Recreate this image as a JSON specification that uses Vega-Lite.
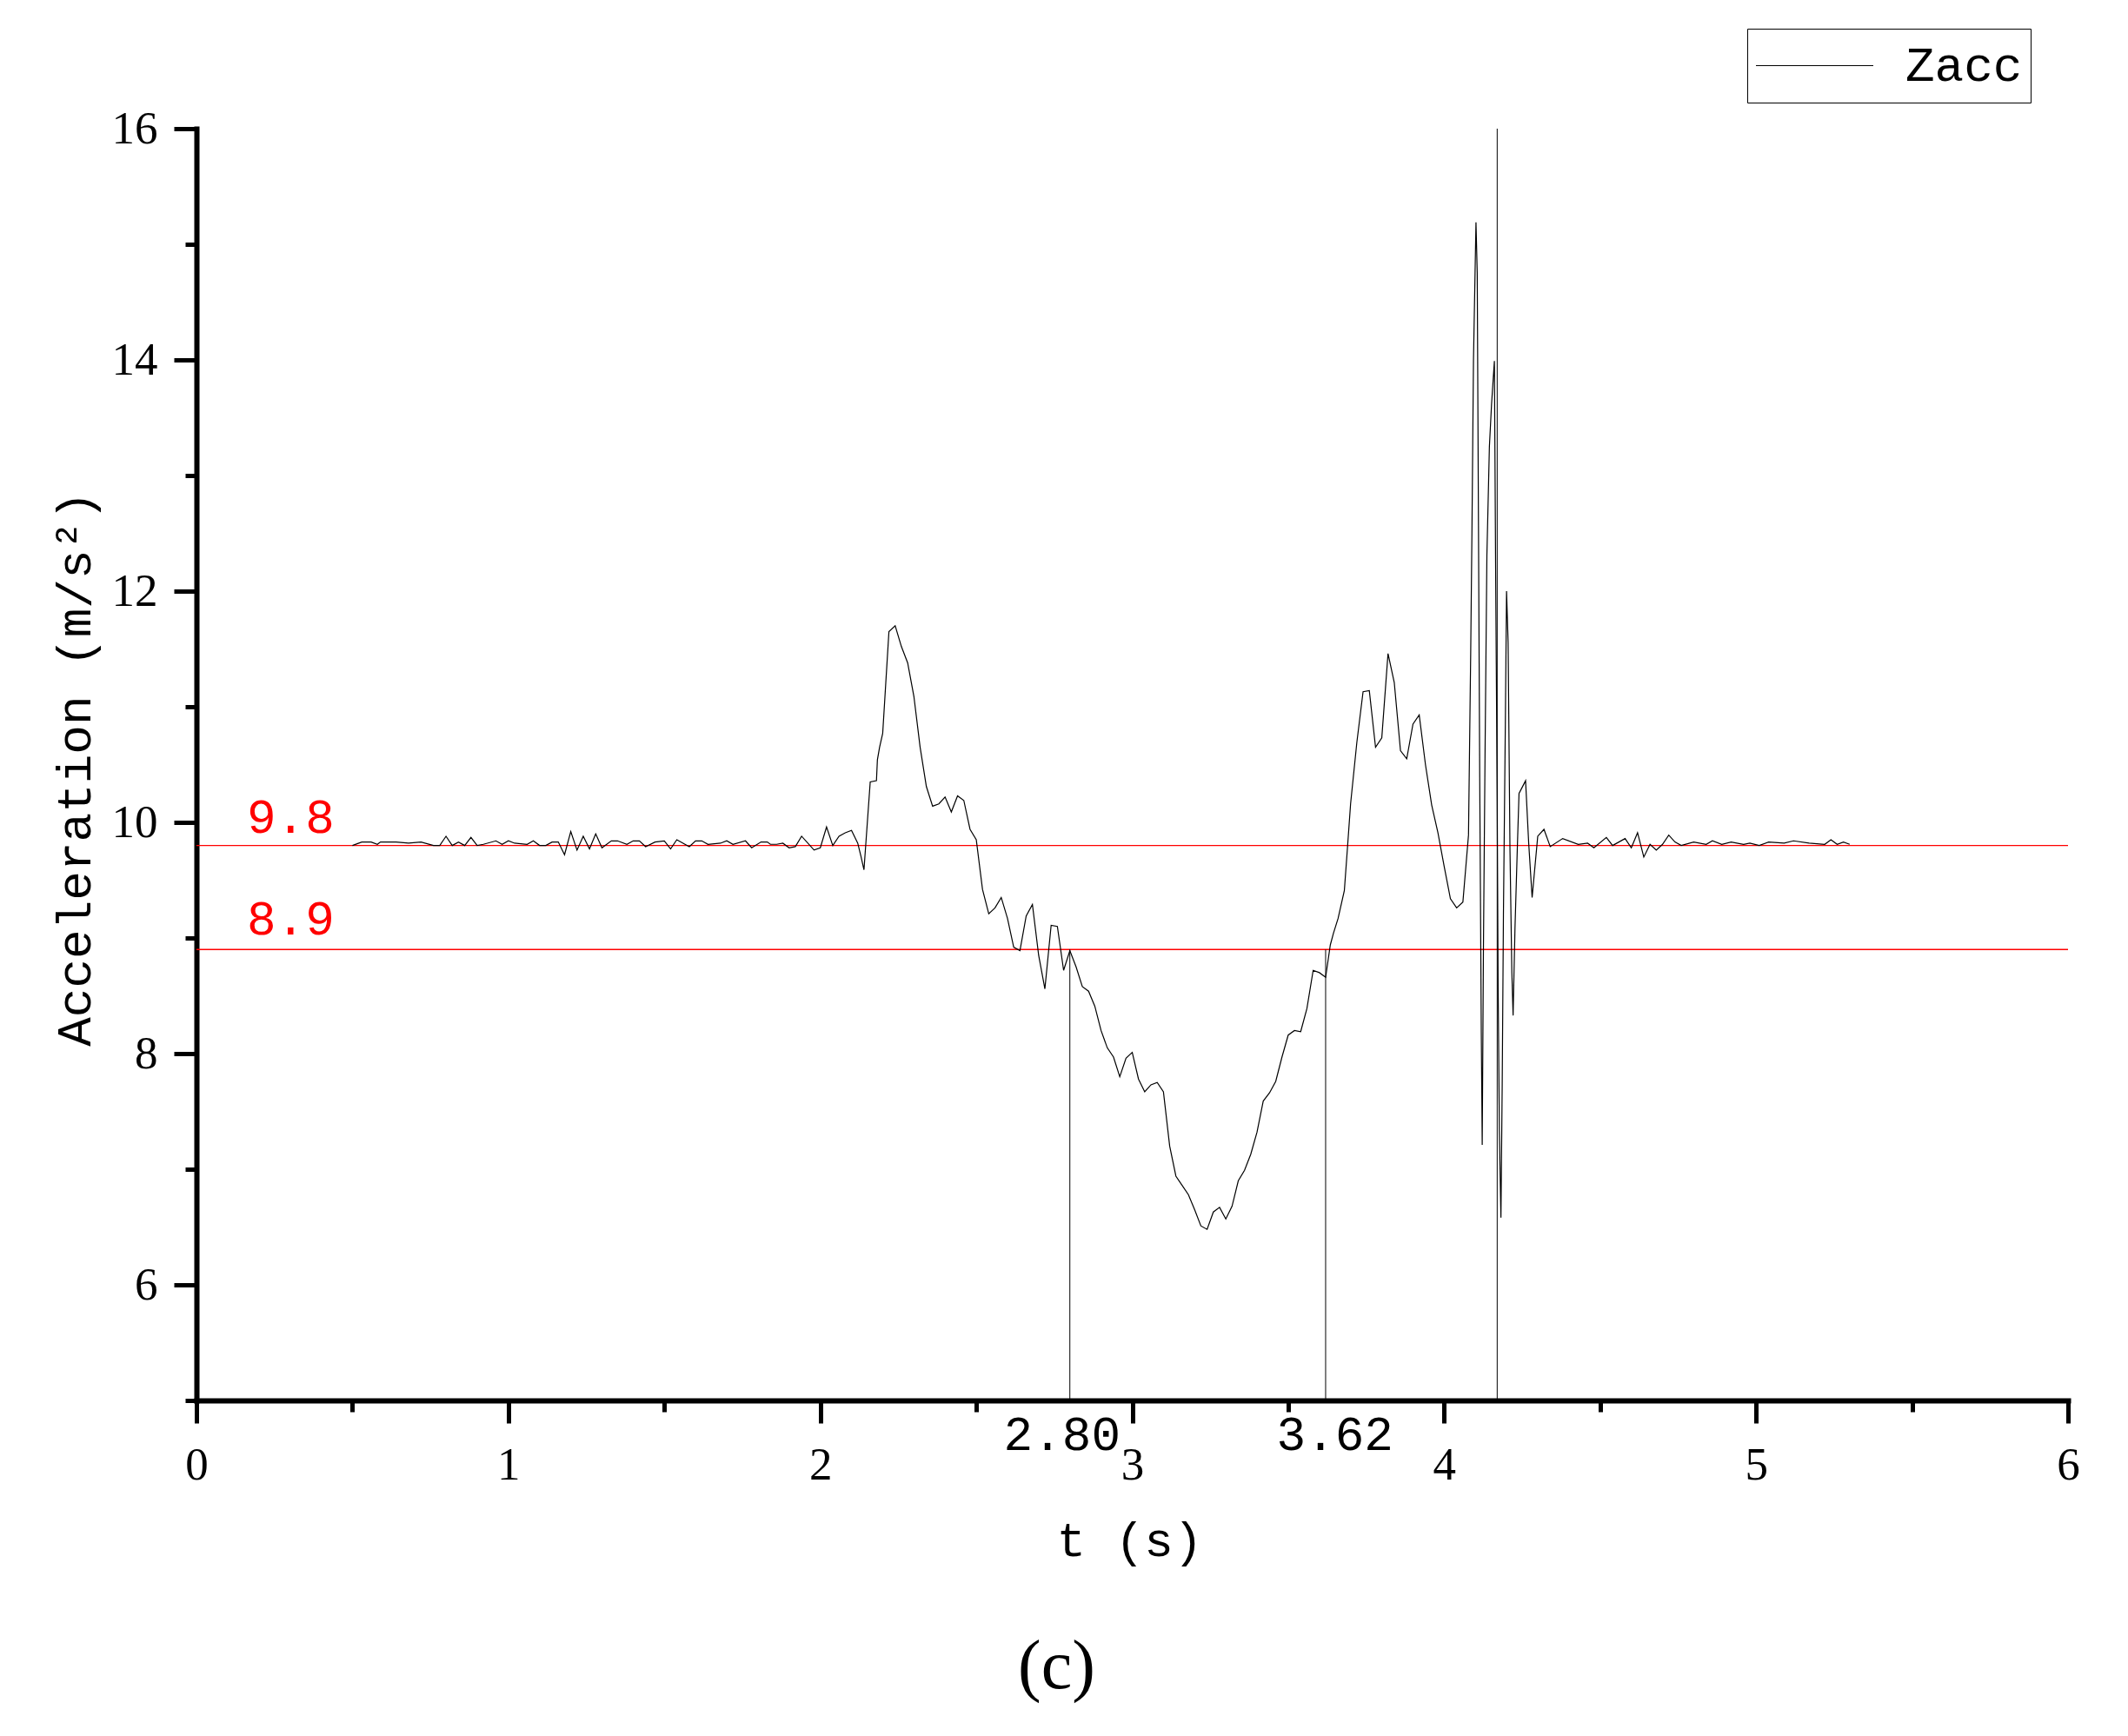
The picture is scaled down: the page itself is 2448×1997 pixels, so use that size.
{
  "$schema": "https://vega.github.io/schema/vega-lite/v6.json",
  "width": 2153,
  "height": 1463,
  "autosize": {"type": "none"},
  "padding": {"left": 226, "top": 148, "right": 69, "bottom": 386},
  "background": "white",
  "config": {"view": {"stroke": null}},
  "title": {"text": "(c)", "orient": "bottom", "anchor": "middle", "font": "Liberation Serif", "fontSize": 80, "fontWeight": "normal", "color": "black", "baseline": "alphabetic", "offset": 142, "dx": -87},
  "datasets": {
    "zacc": [
      {"t":0.50,"a":9.80},{"t":0.53,"a":9.83},{"t":0.56,"a":9.83},{"t":0.58,"a":9.81},{"t":0.59,"a":9.83},{"t":0.64,"a":9.83},{"t":0.68,"a":9.82},{"t":0.72,"a":9.83},{"t":0.76,"a":9.80},{"t":0.78,"a":9.80},
      {"t":0.80,"a":9.88},{"t":0.82,"a":9.80},{"t":0.84,"a":9.83},{"t":0.86,"a":9.80},{"t":0.88,"a":9.87},{"t":0.90,"a":9.80},{"t":0.92,"a":9.81},{"t":0.96,"a":9.84},{"t":0.98,"a":9.81},{"t":1.00,"a":9.84},
      {"t":1.02,"a":9.82},{"t":1.06,"a":9.81},{"t":1.08,"a":9.84},{"t":1.10,"a":9.80},{"t":1.12,"a":9.80},{"t":1.14,"a":9.83},{"t":1.16,"a":9.83},{"t":1.18,"a":9.72},{"t":1.20,"a":9.92},{"t":1.22,"a":9.76},
      {"t":1.24,"a":9.88},{"t":1.26,"a":9.77},{"t":1.28,"a":9.90},{"t":1.30,"a":9.78},{"t":1.33,"a":9.84},{"t":1.35,"a":9.84},{"t":1.38,"a":9.81},{"t":1.40,"a":9.84},{"t":1.42,"a":9.84},{"t":1.44,"a":9.79},
      {"t":1.47,"a":9.83},{"t":1.50,"a":9.84},{"t":1.52,"a":9.77},{"t":1.54,"a":9.85},{"t":1.58,"a":9.79},{"t":1.60,"a":9.84},{"t":1.62,"a":9.84},{"t":1.64,"a":9.81},{"t":1.68,"a":9.82},{"t":1.70,"a":9.84},
      {"t":1.72,"a":9.81},{"t":1.76,"a":9.84},{"t":1.78,"a":9.78},{"t":1.81,"a":9.83},{"t":1.83,"a":9.83},{"t":1.84,"a":9.81},{"t":1.86,"a":9.81},{"t":1.88,"a":9.82},{"t":1.90,"a":9.78},{"t":1.92,"a":9.79},
      {"t":1.94,"a":9.88},{"t":1.98,"a":9.76},{"t":2.00,"a":9.78},{"t":2.02,"a":9.96},{"t":2.04,"a":9.80},{"t":2.06,"a":9.88},{"t":2.08,"a":9.91},{"t":2.10,"a":9.93},{"t":2.12,"a":9.82},{"t":2.13,"a":9.71},
      {"t":2.14,"a":9.59},{"t":2.16,"a":10.35},{"t":2.18,"a":10.36},{"t":2.183,"a":10.54},{"t":2.19,"a":10.65},{"t":2.20,"a":10.77},{"t":2.21,"a":11.21},{"t":2.22,"a":11.65},{"t":2.24,"a":11.70},{"t":2.26,"a":11.52},
      {"t":2.28,"a":11.38},{"t":2.30,"a":11.09},{"t":2.32,"a":10.65},{"t":2.34,"a":10.31},{"t":2.36,"a":10.14},{"t":2.38,"a":10.16},{"t":2.40,"a":10.22},{"t":2.42,"a":10.09},{"t":2.44,"a":10.23},{"t":2.46,"a":10.19},
      {"t":2.48,"a":9.94},{"t":2.50,"a":9.85},{"t":2.52,"a":9.42},{"t":2.54,"a":9.21},{"t":2.56,"a":9.26},{"t":2.58,"a":9.35},{"t":2.60,"a":9.17},{"t":2.62,"a":8.92},{"t":2.64,"a":8.89},{"t":2.66,"a":9.19},
      {"t":2.68,"a":9.29},{"t":2.70,"a":8.85},{"t":2.72,"a":8.56},{"t":2.74,"a":9.11},{"t":2.76,"a":9.10},{"t":2.78,"a":8.72},{"t":2.80,"a":8.89},{"t":2.82,"a":8.75},{"t":2.84,"a":8.58},{"t":2.86,"a":8.54},
      {"t":2.88,"a":8.41},{"t":2.90,"a":8.20},{"t":2.92,"a":8.05},{"t":2.94,"a":7.97},{"t":2.96,"a":7.80},{"t":2.98,"a":7.96},{"t":3.00,"a":8.01},{"t":3.02,"a":7.78},{"t":3.04,"a":7.67},{"t":3.06,"a":7.73},
      {"t":3.08,"a":7.75},{"t":3.10,"a":7.67},{"t":3.12,"a":7.20},{"t":3.14,"a":6.94},{"t":3.16,"a":6.86},{"t":3.18,"a":6.78},{"t":3.20,"a":6.65},{"t":3.22,"a":6.51},{"t":3.24,"a":6.48},{"t":3.26,"a":6.63},
      {"t":3.28,"a":6.67},{"t":3.30,"a":6.57},{"t":3.32,"a":6.68},{"t":3.34,"a":6.90},{"t":3.36,"a":6.99},{"t":3.38,"a":7.13},{"t":3.40,"a":7.32},{"t":3.42,"a":7.59},{"t":3.44,"a":7.66},{"t":3.46,"a":7.76},
      {"t":3.48,"a":7.97},{"t":3.50,"a":8.16},{"t":3.52,"a":8.20},{"t":3.54,"a":8.19},{"t":3.56,"a":8.39},{"t":3.58,"a":8.72},{"t":3.60,"a":8.70},{"t":3.62,"a":8.66},{"t":3.635,"a":8.94},{"t":3.645,"a":9.04},
      {"t":3.66,"a":9.17},{"t":3.68,"a":9.41},{"t":3.69,"a":9.78},{"t":3.70,"a":10.16},{"t":3.72,"a":10.69},{"t":3.74,"a":11.13},{"t":3.76,"a":11.14},{"t":3.78,"a":10.65},{"t":3.80,"a":10.73},{"t":3.82,"a":11.46},
      {"t":3.84,"a":11.21},{"t":3.86,"a":10.62},{"t":3.88,"a":10.55},{"t":3.90,"a":10.85},{"t":3.92,"a":10.93},{"t":3.94,"a":10.50},{"t":3.96,"a":10.15},{"t":3.98,"a":9.91},{"t":4.00,"a":9.62},{"t":4.02,"a":9.34},
      {"t":4.04,"a":9.26},{"t":4.06,"a":9.31},{"t":4.078,"a":9.89},{"t":4.085,"a":11.45},{"t":4.089,"a":12.50},{"t":4.094,"a":14.00},{"t":4.099,"a":14.75},{"t":4.102,"a":15.19},{"t":4.106,"a":14.75},{"t":4.110,"a":12.57},
      {"t":4.114,"a":10.39},{"t":4.119,"a":8.19},{"t":4.122,"a":7.21},{"t":4.126,"a":8.95},{"t":4.131,"a":10.57},{"t":4.137,"a":12.31},{"t":4.145,"a":13.25},{"t":4.152,"a":13.62},{"t":4.161,"a":13.99},{"t":4.165,"a":12.19},
      {"t":4.170,"a":10.20},{"t":4.173,"a":8.58},{"t":4.177,"a":7.33},{"t":4.182,"a":6.58},{"t":4.186,"a":7.71},{"t":4.190,"a":9.20},{"t":4.196,"a":10.82},{"t":4.200,"a":12.00},{"t":4.205,"a":11.56},{"t":4.211,"a":9.76},
      {"t":4.217,"a":8.70},{"t":4.221,"a":8.33},{"t":4.227,"a":9.08},{"t":4.235,"a":9.82},{"t":4.240,"a":10.25},{"t":4.261,"a":10.36},{"t":4.271,"a":9.82},{"t":4.282,"a":9.35},{"t":4.30,"a":9.88},{"t":4.32,"a":9.94},
      {"t":4.34,"a":9.79},{"t":4.38,"a":9.86},{"t":4.43,"a":9.81},{"t":4.46,"a":9.82},{"t":4.48,"a":9.78},{"t":4.52,"a":9.87},{"t":4.54,"a":9.80},{"t":4.58,"a":9.86},{"t":4.60,"a":9.78},{"t":4.62,"a":9.91},
      {"t":4.64,"a":9.70},{"t":4.66,"a":9.81},{"t":4.68,"a":9.76},{"t":4.70,"a":9.81},{"t":4.72,"a":9.89},{"t":4.74,"a":9.83},{"t":4.76,"a":9.80},{"t":4.80,"a":9.83},{"t":4.84,"a":9.81},{"t":4.86,"a":9.84},
      {"t":4.89,"a":9.81},{"t":4.92,"a":9.83},{"t":4.96,"a":9.81},{"t":4.98,"a":9.82},{"t":5.01,"a":9.80},{"t":5.04,"a":9.83},{"t":5.09,"a":9.82},{"t":5.12,"a":9.84},{"t":5.17,"a":9.82},{"t":5.22,"a":9.81},
      {"t":5.24,"a":9.85},{"t":5.26,"a":9.81},{"t":5.28,"a":9.83},{"t":5.30,"a":9.81}
    ],
    "levels": [{"a": 9.8, "label": "9.8", "lt": 0.302, "la": 9.913}, {"a": 8.9, "label": "8.9", "lt": 0.302, "la": 9.027}],
    "marks": [{"t": 2.80, "lo": 5, "hi": 8.9}, {"t": 3.62, "lo": 5, "hi": 8.9}, {"t": 4.17, "lo": 5, "hi": 16}],
    "marklabels": [{"t": 2.775, "a": 4.57, "label": "2.80"}, {"t": 3.65, "a": 4.57, "label": "3.62"}]
  },
  "resolve": {"scale": {"x": "shared", "y": "shared"}, "axis": {"x": "independent", "y": "independent"}},
  "layer": [
    {
      "data": {"name": "levels"},
      "mark": {"type": "rule", "color": "#ff0000", "strokeWidth": 1.4},
      "encoding": {
        "y": {"field": "a", "type": "quantitative", "scale": {"domain": [5, 16], "nice": false, "zero": false}, "axis": null}
      }
    },
    {
      "data": {"name": "marks"},
      "mark": {"type": "rule", "color": "#000000", "strokeWidth": 1},
      "encoding": {
        "x": {"field": "t", "type": "quantitative", "scale": {"domain": [0, 6], "nice": false, "zero": false},
              "axis": {"orient": "bottom", "values": [0.5, 1.5, 2.5, 3.5, 4.5, 5.5], "tickSize": 13, "tickWidth": 5, "tickColor": "black", "labels": false, "domain": false, "grid": false, "title": null}},
        "y": {"field": "lo", "type": "quantitative", "scale": {"domain": [5, 16], "nice": false, "zero": false},
              "axis": {"orient": "left", "values": [5, 7, 9, 11, 13, 15], "tickSize": 13, "tickWidth": 5, "tickColor": "black", "labels": false, "domain": false, "grid": false, "title": null}},
        "y2": {"field": "hi"}
      }
    },
    {
      "data": {"name": "zacc"},
      "mark": {"type": "line", "strokeWidth": 1.2},
      "encoding": {
        "x": {"field": "t", "type": "quantitative", "scale": {"domain": [0, 6], "nice": false, "zero": false},
              "axis": {"orient": "bottom", "values": [0, 1, 2, 3, 4, 5, 6], "format": "d", "tickSize": 26, "tickWidth": 5, "tickColor": "black", "domainWidth": 6, "domainColor": "black", "domainCap": "square", "grid": false,
                       "labelFont": "Liberation Serif", "labelFontSize": 53, "labelColor": "black", "labelPadding": 22, "labelFlush": false, "labelOverlap": false,
                       "title": "t (s)", "titleFont": "Liberation Mono", "titleFontSize": 56, "titleFontWeight": "normal", "titleColor": "black", "titleX": 1073, "titleY": 178, "titleBaseline": "alphabetic", "titleAlign": "center"}},
        "y": {"field": "a", "type": "quantitative", "scale": {"domain": [5, 16], "nice": false, "zero": false},
              "axis": {"orient": "left", "values": [6, 8, 10, 12, 14, 16], "format": "d", "tickSize": 26, "tickWidth": 5, "tickColor": "black", "domainWidth": 6, "domainColor": "black", "domainCap": "square", "grid": false,
                       "labelFont": "Liberation Serif", "labelFontSize": 53, "labelColor": "black", "labelPadding": 19, "labelOverlap": false, "labelFlush": false,
                       "title": "Acceleration (m/s²)", "titleFont": "Liberation Mono", "titleFontSize": 56, "titleFontWeight": "normal", "titleColor": "black", "titleX": -123, "titleY": 736, "titleAngle": -90, "titleBaseline": "alphabetic", "titleAlign": "center"}},
        "color": {"datum": "Zacc", "scale": {"domain": ["Zacc"], "range": ["#000000"]},
                  "legend": {"orient": "none", "legendX": 1784, "legendY": -115, "title": null, "symbolType": "stroke", "symbolSize": 18225, "symbolStrokeWidth": 1.2, "clipHeight": 67, "labelFont": "Liberation Mono", "labelFontSize": 56, "labelColor": "black", "labelOffset": 36, "padding": 9, "strokeColor": "black"}}
      }
    },
    {
      "data": {"name": "levels"},
      "mark": {"type": "text", "color": "#ff0000", "font": "Liberation Mono", "fontSize": 56, "align": "center", "baseline": "alphabetic"},
      "encoding": {
        "x": {"field": "lt", "type": "quantitative", "scale": {"domain": [0, 6], "nice": false, "zero": false}, "axis": null},
        "y": {"field": "la", "type": "quantitative", "scale": {"domain": [5, 16], "nice": false, "zero": false}, "axis": null},
        "text": {"field": "label"}
      }
    },
    {
      "data": {"name": "marklabels"},
      "mark": {"type": "text", "color": "#000000", "font": "Liberation Mono", "fontSize": 56, "align": "center", "baseline": "alphabetic"},
      "encoding": {
        "x": {"field": "t", "type": "quantitative", "scale": {"domain": [0, 6], "nice": false, "zero": false}, "axis": null},
        "y": {"field": "a", "type": "quantitative", "scale": {"domain": [5, 16], "nice": false, "zero": false}, "axis": null},
        "text": {"field": "label"}
      }
    }
  ]
}
